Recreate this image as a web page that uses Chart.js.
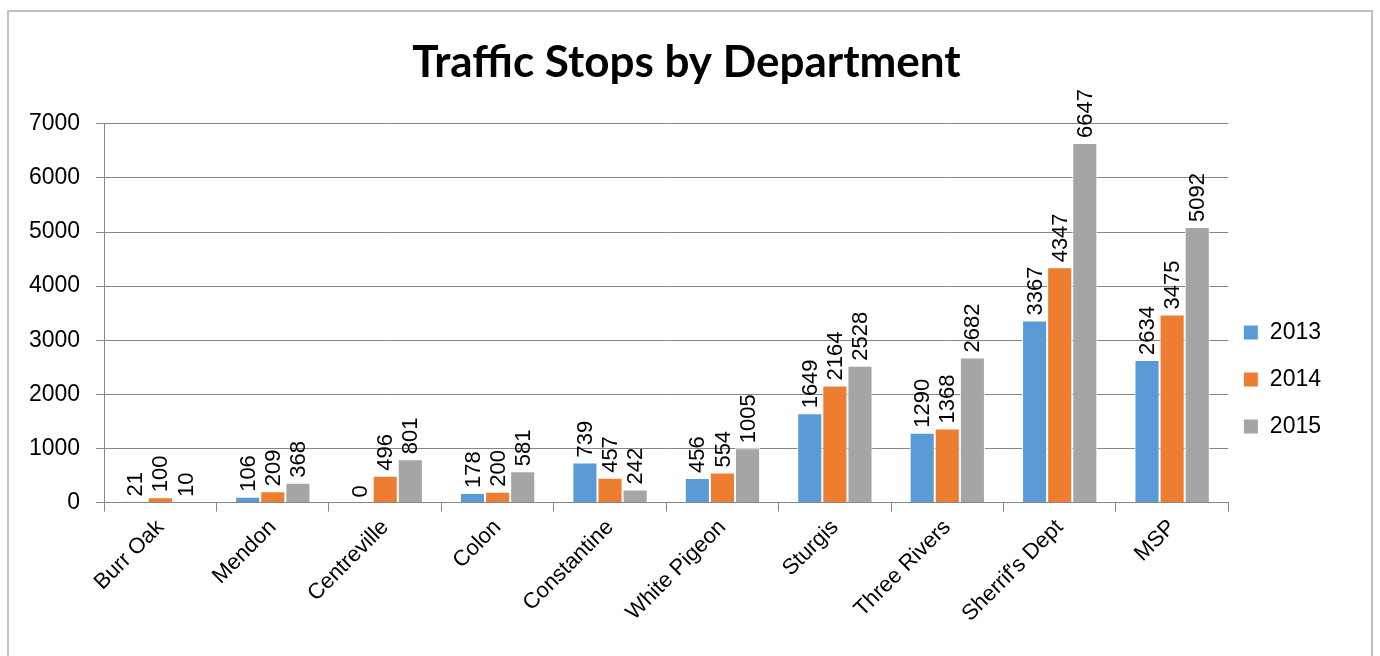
<!DOCTYPE html>
<html>
<head>
<meta charset="utf-8">
<script src="https://cdn.jsdelivr.net/npm/chart.js@4"></script>
<style>
  html, body { margin: 0; padding: 0; background: #fff; }
  #wrap { position: relative; width: 1380px; height: 656px; overflow: hidden; }
  #frame { position: absolute; left: 7px; top: 10px; width: 1366px; height: 700px; border: 2px solid #bfbfbf; box-sizing: border-box; }
  #grafico { position: absolute; left: 0; top: 0; }
</style>
</head>
<body>
<div id="wrap">
  <div id="frame"></div>
  <canvas id="grafico" width="1380" height="656"></canvas>
</div>
<script>
const departamentos = ['Burr Oak', 'Mendon', 'Centreville', 'Colon', 'Constantine', 'White Pigeon', 'Sturgis', 'Three Rivers', "Sherrif's Dept", 'MSP'];
const anos = ['2013', '2014', '2015'];
const paradas2013 = [21, 106, 0, 178, 739, 456, 1649, 1290, 3367, 2634];
const paradas2014 = [100, 209, 496, 200, 457, 554, 2164, 1368, 4347, 3475];
const paradas2015 = [10, 368, 801, 581, 242, 1005, 2528, 2682, 6647, 5092];
const cores = ['#5B9BD5', '#ED7D31', '#A5A5A5'];
const fonte = '"Liberation Sans", Arial, sans-serif';

// rótulos verticais acima das barras
const rotulos = {
    id: 'rotulos',
    afterDatasetsDraw(chart) {
        const ctx = chart.ctx;
        ctx.save();
        ctx.font = '22px ' + fonte;
        ctx.fillStyle = '#000';
        ctx.textAlign = 'left';
        ctx.textBaseline = 'middle';
        chart.data.datasets.forEach((ds, i) => {
            chart.getDatasetMeta(i).data.forEach((bar, j) => {
                ctx.save();
                ctx.translate(bar.x, bar.y - 5);
                ctx.rotate(-Math.PI / 2);
                ctx.fillText(String(ds.data[j]), 0, 1);
                ctx.restore();
            });
        });
        ctx.restore();
    }
};

// puxa a legenda um pouco para a esquerda e centra o título na moldura
const ajusteLayout = {
    id: 'ajusteLayout',
    afterLayout(chart) {
        chart.legend.left -= 9;
        chart.legend.right -= 9;
        chart.titleBlock.left += 20;
    }
};

const ctx = document.getElementById('grafico').getContext('2d');
new Chart(ctx, {
    type: 'bar',
    data: {
        labels: departamentos,
        datasets: [paradas2013, paradas2014, paradas2015].map((d, i) => ({
            label: anos[i],
            data: d,
            backgroundColor: cores[i],
            borderColor: '#ffffff',
            borderWidth: 1,
            barPercentage: 1.0,
            categoryPercentage: 0.67
        }))
    },
    options: {
        responsive: false,
        animation: false,
        layout: { padding: { left: 13, right: 40, top: 36, bottom: 26 } },
        plugins: {
            title: {
                display: true,
                text: 'Traffic Stops by Department',
                color: '#000',
                font: { family: 'Lato, "Open Sans", sans-serif', size: 44, weight: 'bold' },
                padding: { top: 0, bottom: 35 }
            },
            legend: {
                position: 'right',
                align: 'start',
                title: { display: true, text: ' ', padding: { top: 249, bottom: 0 }, font: { size: 10 } },
                labels: {
                    boxWidth: 15,
                    boxHeight: 15,
                    padding: 24,
                    color: '#000',
                    font: { family: fonte, size: 23 }
                }
            },
            tooltip: { enabled: false }
        },
        scales: {
            x: {
                grid: { display: true, drawOnChartArea: false, drawTicks: true, tickLength: 9, color: '#868686', offset: true },
                border: { color: '#868686' },
                ticks: {
                    color: '#000',
                    minRotation: 45,
                    maxRotation: 45,
                    font: { family: fonte, size: 22 }
                }
            },
            y: {
                min: 0,
                max: 7000,
                ticks: {
                    stepSize: 1000,
                    color: '#000',
                    padding: 16,
                    font: { family: fonte, size: 23 },
                    callback: v => String(v)
                },
                grid: { color: '#868686', tickLength: 8 },
                border: { color: '#868686' }
            }
        }
    },
    plugins: [rotulos, ajusteLayout]
});
</script>
</body>
</html>
